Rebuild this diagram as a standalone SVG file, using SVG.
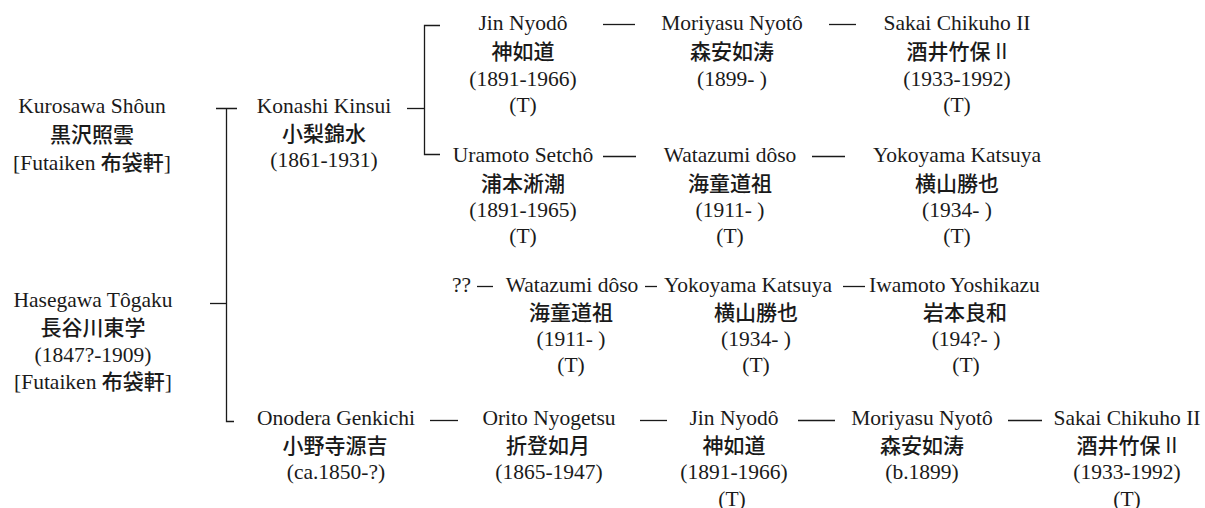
<svg xmlns="http://www.w3.org/2000/svg" width="1205" height="508" viewBox="0 0 1205 508">
<style>
text{fill:#1a1a1a;text-anchor:middle}
.l{font-family:"Liberation Serif","Times New Roman",serif;font-size:21.5px}
.s{font-family:"Liberation Serif","Times New Roman",serif;font-size:21.5px;text-anchor:start}
.c{font-family:"Noto Sans CJK JP","Noto Sans CJK SC",sans-serif;font-size:21px;font-weight:500}
.cs{font-family:"Noto Sans CJK JP","Noto Sans CJK SC",sans-serif;font-size:21px;font-weight:500}
.n{font-weight:normal}
.k line,.k path{stroke:#1a1a1a;stroke-width:1.3;fill:none}
</style>
<rect width="1205" height="508" fill="#fff"/>
<g class="k" id="connectors">
<path d="M216,108.5H237M226.5,108.5V421.5H234"/>
<line x1="210" y1="303.5" x2="226.5" y2="303.5"/>
<line x1="407" y1="108.5" x2="424.5" y2="108.5"/>
<path d="M440,25.5H424.5V154.5H440"/>
<line x1="603" y1="24.5" x2="635" y2="24.5"/>
<line x1="829" y1="24.5" x2="856" y2="24.5"/>
<line x1="603" y1="156.5" x2="636" y2="156.5"/>
<line x1="812" y1="156.5" x2="845" y2="156.5"/>
<line x1="477" y1="286.5" x2="493" y2="286.5"/>
<line x1="645" y1="286.5" x2="657" y2="286.5"/>
<line x1="843" y1="286.5" x2="865" y2="286.5"/>
<line x1="430" y1="420.5" x2="458" y2="420.5"/>
<line x1="640" y1="420.5" x2="667" y2="420.5"/>
<line x1="798" y1="420.5" x2="835" y2="420.5"/>
<line x1="1008" y1="420.5" x2="1042" y2="420.5"/>
</g>
<g id="kurosawa">
<text class="l" x="92" y="113">Kurosawa Shôun</text>
<text class="c" x="92" y="142">黒沢照雲</text>
<text class="l" x="92" y="170">[Futaiken <tspan class="cs">布袋軒</tspan>]</text>
</g>
<g id="hasegawa">
<text class="l" x="93" y="307">Hasegawa Tôgaku</text>
<text class="c" x="93" y="335">長谷川東学</text>
<text class="l" x="93" y="362">(1847?-1909)</text>
<text class="l" x="93" y="389">[Futaiken <tspan class="cs">布袋軒</tspan>]</text>
</g>
<g id="konashi">
<text class="l" x="324" y="113">Konashi Kinsui</text>
<text class="c" x="324" y="141">小梨錦水</text>
<text class="l" x="324" y="167">(1861-1931)</text>
</g>
<g id="jin1">
<text class="l" x="523" y="30">Jin Nyodô</text>
<text class="c" x="523" y="59">神如道</text>
<text class="l" x="523" y="86">(1891-1966)</text>
<text class="l" x="523" y="112">(T)</text>
</g>
<g id="moriyasu1">
<text class="l" x="732" y="30">Moriyasu Nyotô</text>
<text class="c" x="732" y="59">森安如涛</text>
<text class="l" x="732" y="86">(1899- )</text>
</g>
<g id="sakai1">
<text class="l" x="957" y="30">Sakai Chikuho II</text>
<text class="c" x="957" y="59">酒井竹保 <tspan class="n">II</tspan></text>
<text class="l" x="957" y="86">(1933-1992)</text>
<text class="l" x="957" y="112">(T)</text>
</g>
<g id="uramoto">
<text class="l" x="523" y="162">Uramoto Setchô</text>
<text class="c" x="523" y="191">浦本淅潮</text>
<text class="l" x="523" y="217">(1891-1965)</text>
<text class="l" x="523" y="243">(T)</text>
</g>
<g id="watazumi1">
<text class="l" x="730" y="162">Watazumi dôso</text>
<text class="c" x="730" y="191">海童道祖</text>
<text class="l" x="730" y="217">(1911- )</text>
<text class="l" x="730" y="243">(T)</text>
</g>
<g id="yokoyama1">
<text class="l" x="957" y="162">Yokoyama Katsuya</text>
<text class="c" x="957" y="191">横山勝也</text>
<text class="l" x="957" y="217">(1934- )</text>
<text class="l" x="957" y="243">(T)</text>
</g>
<g id="unknown">
<text class="s" x="452" y="292">??</text>
</g>
<g id="watazumi2">
<text class="l" x="572" y="292">Watazumi dôso</text>
<text class="c" x="571" y="320">海童道祖</text>
<text class="l" x="571" y="346">(1911- )</text>
<text class="l" x="571" y="372">(T)</text>
</g>
<g id="yokoyama2">
<text class="l" x="748" y="292">Yokoyama Katsuya</text>
<text class="c" x="756" y="320">横山勝也</text>
<text class="l" x="756" y="346">(1934- )</text>
<text class="l" x="756" y="372">(T)</text>
</g>
<g id="iwamoto">
<text class="s" x="869" y="292">Iwamoto Yoshikazu</text>
<text class="c" x="965" y="320">岩本良和</text>
<text class="l" x="966" y="346">(194?- )</text>
<text class="l" x="966" y="372">(T)</text>
</g>
<g id="onodera">
<text class="l" x="336" y="425">Onodera Genkichi</text>
<text class="c" x="335" y="453">小野寺源吉</text>
<text class="l" x="336" y="479">(ca.1850-?)</text>
</g>
<g id="orito">
<text class="l" x="549" y="425">Orito Nyogetsu</text>
<text class="c" x="548" y="453">折登如月</text>
<text class="l" x="549" y="479">(1865-1947)</text>
</g>
<g id="jin2">
<text class="l" x="734" y="425">Jin Nyodô</text>
<text class="c" x="734" y="453">神如道</text>
<text class="l" x="734" y="479">(1891-1966)</text>
<text class="l" x="732" y="506">(T)</text>
</g>
<g id="moriyasu2">
<text class="l" x="922" y="425">Moriyasu Nyotô</text>
<text class="c" x="922" y="453">森安如涛</text>
<text class="l" x="922" y="479">(b.1899)</text>
</g>
<g id="sakai2">
<text class="l" x="1127" y="425">Sakai Chikuho II</text>
<text class="c" x="1127" y="453">酒井竹保 <tspan class="n">II</tspan></text>
<text class="l" x="1127" y="479">(1933-1992)</text>
<text class="l" x="1127" y="506">(T)</text>
</g>
</svg>
